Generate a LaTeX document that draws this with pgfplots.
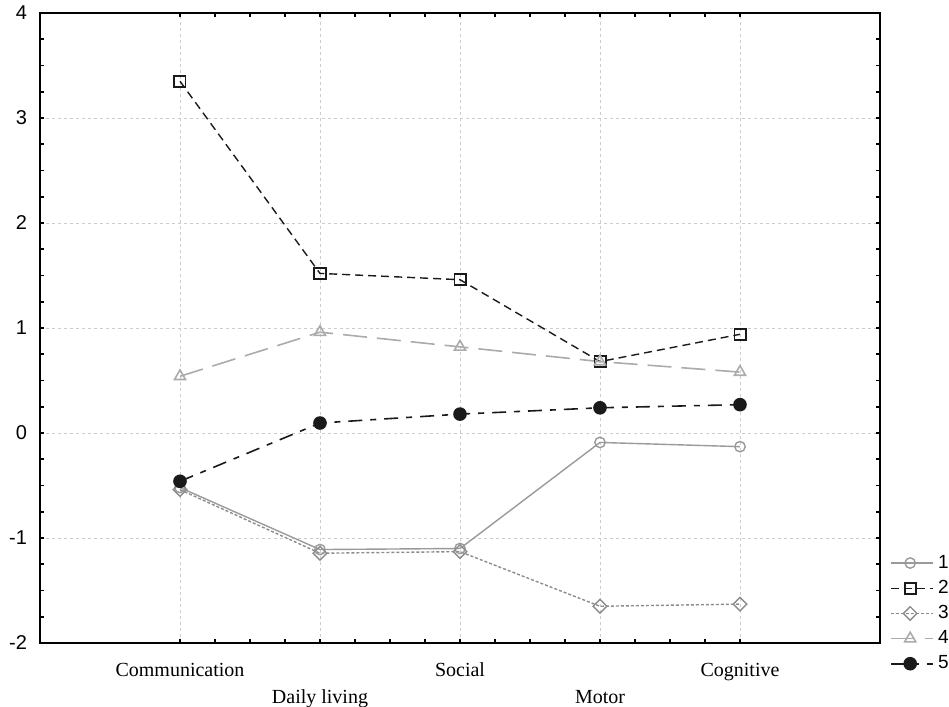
\documentclass[border=0pt]{standalone}
\usepackage{fontspec}
\setmainfont{Liberation Serif}
\newfontfamily\arialfont{Liberation Sans}
\usepackage{pgfplots}
\pgfplotsset{compat=1.18}
\definecolor{gA}{HTML}{9A9A9A}
\definecolor{gC}{HTML}{8C8C8C}
\definecolor{gD}{HTML}{ABABAB}
\definecolor{dk}{HTML}{1A1A1A}
\pgfplotsset{
 fullimg/.style={legend image code/.code={
   \draw[##1, mark=none] (0pt,0pt) -- (18pt,0pt);
   \draw[##1, only marks] plot coordinates {(9.5pt,0pt)};
   \path (0pt,0pt) -- (21pt,0pt);}},
 halfimg/.style={legend image code/.code={
   \draw[##1, mark=none] (0pt,0pt) -- (9.5pt,0pt);
   \draw[##1, only marks] plot coordinates {(9.5pt,0pt)};
   \path (0pt,0pt) -- (21pt,0pt);}},
}
\begin{document}
\begin{tikzpicture}
\begin{axis}[
 scale only axis, width=420pt, height=315pt,
 xmin=-1, xmax=5, ymin=-2, ymax=4,
 xtick={0,...,4},
 xticklabels={\strut Communication,{\strut\\\strut Daily living},\strut Social,{\strut\\\strut Motor},\strut Cognitive},
 xticklabel style={align=center, font=\fontsize{10}{13.5}\selectfont, yshift=-4pt},
 ytick={-2,...,4}, yticklabels={-2,-1,0,1,2,3,4},
 yticklabel style={font=\arialfont\fontsize{10}{12}\selectfont, xshift=-3pt},
 minor x tick num=3, minor y tick num=3,
 tick align=inside, major tick length=2pt, minor tick length=2pt,
 tick style={line width=0.8pt, black},
 axis line style={line width=1.2pt},
 grid=major, major grid style={dash pattern=on 1.5pt off 1.5pt, color=black!20, line width=0.4pt},
 legend style={draw=none, fill=none, at={(1,0.153)}, anchor=north west, xshift=2pt, font=\arialfont\fontsize{9.5}{11}\selectfont, row sep=0.5pt},
 legend cell align=left,
]
\addplot[gA, fullimg, line width=0.7pt, mark=o, mark size=2.6pt, mark options={solid, fill=white}] coordinates {(0,-0.52) (1,-1.11) (2,-1.10) (3,-0.09) (4,-0.13)};
\addlegendentry{1}
\addplot[dk, fullimg, line width=0.7pt, dash pattern=on 4pt off 2.5pt, mark=square, mark size=2.8pt, mark options={solid, fill=white, line width=0.9pt}] coordinates {(0,3.35) (1,1.52) (2,1.46) (3,0.68) (4,0.94)};
\addlegendentry{2}
\addplot[gC, fullimg, line width=0.7pt, dash pattern=on 1.5pt off 1pt, mark=square, mark size=2.4pt, mark options={solid, fill=white, rotate=45}] coordinates {(0,-0.54) (1,-1.145) (2,-1.13) (3,-1.65) (4,-1.63)};
\addlegendentry{3}
\addplot[gD, halfimg, line width=0.8pt, dash pattern=on 12pt off 5pt, mark=triangle, mark size=3.2pt, mark options={solid, fill=white}] coordinates {(0,0.54) (1,0.96) (2,0.82) (3,0.68) (4,0.58)};
\addlegendentry{4}
\addplot[dk, halfimg, line width=0.8pt, dash pattern=on 7pt off 4pt on 3pt off 4pt, mark=*, mark size=3pt, mark options={solid}] coordinates {(0,-0.46) (1,0.095) (2,0.18) (3,0.24) (4,0.27)};
\addlegendentry{5}
\end{axis}
\pgfresetboundingbox
\path[use as bounding box] (-20pt,-32pt) rectangle (454.5pt,321.5pt);
\end{tikzpicture}
\end{document}
